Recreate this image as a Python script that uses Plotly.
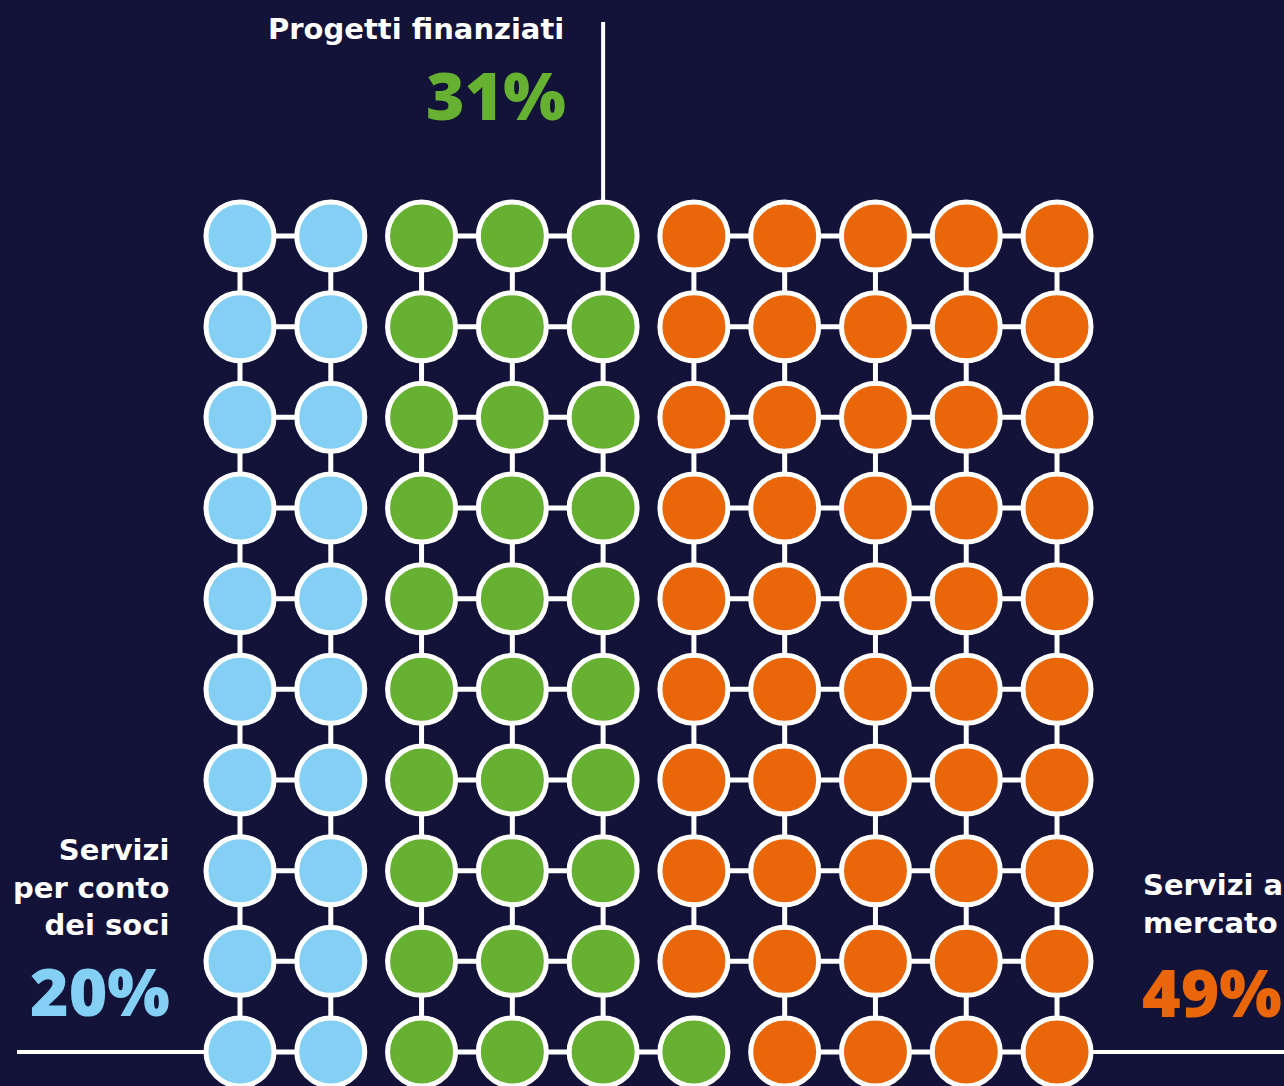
import plotly.graph_objects as go

# ---- data ----
categories = ["Servizi per conto dei soci", "Progetti finanziati", "Servizi al mercato"]
values = [20, 31, 49]
colors = ["#84CFF4", "#66B132", "#EA6709"]
label_texts = ["Servizi<br>per conto<br>dei soci", "Progetti finanziati", "Servizi al<br>mercato"]
pct_labels = ["20%", "31%", "49%"]

N_COLS = 10
N_ROWS = 10

# ---- layout constants (pixels) ----
W, H = 1284, 1086
X0, DX = 240.0, 90.78
Y0, DY = 236.0, 90.67
BG = "#131238"
LABEL_FONT = "DejaVu Sans"
PCT_FONT = "Open Sans"

def cx(c):
    return X0 + c * DX

def cy(r):
    return Y0 + r * DY

# assign categories: column-major, filling each column bottom to top
cat_of = {}
idx = 0
for k, v in enumerate(values):
    for _ in range(v):
        col = idx // N_ROWS
        row = N_ROWS - 1 - (idx % N_ROWS)
        cat_of[(col, row)] = k
        idx += 1

fig = go.Figure()

# connectors between same-category neighbours
lx, ly = [], []
for (c, r), k in cat_of.items():
    if cat_of.get((c + 1, r)) == k:
        lx += [cx(c), cx(c + 1), None]
        ly += [cy(r), cy(r), None]
    if cat_of.get((c, r + 1)) == k:
        lx += [cx(c), cx(c), None]
        ly += [cy(r), cy(r + 1), None]
fig.add_trace(go.Scatter(x=lx, y=ly, mode="lines", line=dict(color="white", width=5),
                         hoverinfo="skip", showlegend=False))

# circles
for k, name in enumerate(categories):
    pts = [(c, r) for (c, r), kk in cat_of.items() if kk == k]
    fig.add_trace(go.Scatter(
        x=[cx(c) for c, r in pts], y=[cy(r) for c, r in pts], mode="markers", name=name,
        marker=dict(size=68, color=colors[k], line=dict(color="white", width=5)),
        showlegend=False))

# guide lines
green_top_col = max(c for (c, r), k in cat_of.items() if k == 1 and r == 0)
shapes = [
    dict(type="line", x0=cx(green_top_col), x1=cx(green_top_col), y0=22, y1=cy(0),
         line=dict(color="white", width=4), layer="below"),
    dict(type="line", x0=17, x1=cx(0), y0=cy(N_ROWS - 1), y1=cy(N_ROWS - 1),
         line=dict(color="white", width=4), layer="below"),
    dict(type="line", x0=cx(N_COLS - 1), x1=W, y0=cy(N_ROWS - 1), y1=cy(N_ROWS - 1),
         line=dict(color="white", width=4), layer="below"),
]

lab_font = dict(family=LABEL_FONT, size=29, color="white", weight=700)
def pct_font(col):
    return dict(family=PCT_FONT, size=66, color=col, weight=800)

annotations = [
    # Progetti finanziati
    dict(x=566, y=29, text=label_texts[1], xanchor="right", yanchor="middle",
         font=lab_font, showarrow=False, align="right"),
    dict(x=568, y=94, text=pct_labels[1], xanchor="right", yanchor="middle",
         font=pct_font(colors[1]), showarrow=False),
    # Servizi per conto dei soci
    dict(x=171, y=887, text=label_texts[0], xanchor="right", yanchor="middle",
         font=lab_font, showarrow=False, align="right"),
    dict(x=172, y=990, text=pct_labels[0], xanchor="right", yanchor="middle",
         font=pct_font(colors[0]), showarrow=False),
    # Servizi al mercato
    dict(x=1141, y=904, text=label_texts[2], xanchor="left", yanchor="middle",
         font=lab_font, showarrow=False, align="left"),
    dict(x=1140, y=991, text=pct_labels[2], xanchor="left", yanchor="middle",
         font=pct_font(colors[2]), showarrow=False),
]
for a in annotations:
    a["xref"] = "x"
    a["yref"] = "y"

fig.update_layout(
    width=W, height=H,
    margin=dict(l=0, r=0, t=0, b=0),
    paper_bgcolor=BG, plot_bgcolor=BG,
    xaxis=dict(range=[0, W], visible=False, fixedrange=True),
    yaxis=dict(range=[H, 0], visible=False, fixedrange=True),
    shapes=shapes, annotations=annotations,
)

fig.write_html(
    "out.html",
    config={"displayModeBar": False},
    post_script=f"document.body.style.margin='0';document.body.style.background='{BG}';",
)
